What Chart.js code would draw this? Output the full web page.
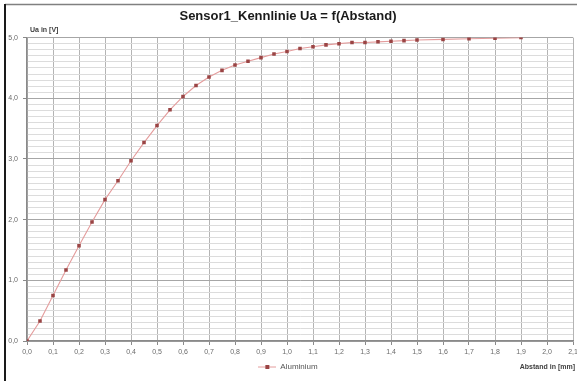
<!DOCTYPE html>
<html>
<head>
<meta charset="utf-8">
<title>Sensor1_Kennlinie</title>
<script src="https://cdn.jsdelivr.net/npm/chart.js@4/dist/chart.umd.min.js"></script>
<style>
    html, body { margin: 0; padding: 0; background: #ffffff; }
    #wrap { width: 577px; height: 381px; }
</style>
</head>
<body>
<div id="wrap"><canvas id="sensor-chart" width="577" height="381"></canvas></div>
<script>
'use strict';

// Abstand in mm
const abstand = [
    0.00, 0.05, 0.10, 0.15, 0.20, 0.25, 0.30, 0.35, 0.40, 0.45,
    0.50, 0.55, 0.60, 0.65, 0.70, 0.75, 0.80, 0.85, 0.90, 0.95,
    1.00, 1.05, 1.10, 1.15, 1.20, 1.25, 1.30, 1.35, 1.40, 1.45,
    1.50, 1.60, 1.70, 1.80, 1.90,
];

// Ua in V (Aluminium)
const spannung = [
    0.00, 0.33, 0.75, 1.17, 1.57, 1.96, 2.33, 2.64, 2.97, 3.27,
    3.55, 3.81, 4.03, 4.21, 4.35, 4.46, 4.55, 4.61, 4.67, 4.73,
    4.77, 4.82, 4.85, 4.88, 4.90, 4.92, 4.92, 4.93, 4.94, 4.95,
    4.96, 4.97, 4.98, 4.99, 5.00,
];

const serieName = 'Aluminium';
const chartTitle = 'Sensor1_Kennlinie Ua = f(Abstand)';
const yTitle = 'Ua in [V]';
const xTitle = 'Abstand in [mm]';

const lineColor = '#e49c9c';
const markColor = '#9a4444';

const canv = document.querySelector('#sensor-chart');

function isMajor(v) {
    return Math.abs(v - Math.round(v)) < 1e-6;
}

function komma(v) {
    return v.toFixed(1).replace('.', ',');
}

// kleines Legendensymbol: Linie mit Marker
function legendIcon() {
    const c = document.createElement('canvas');
    c.width = 18;
    c.height = 6;
    const ctx = c.getContext('2d');
    ctx.strokeStyle = lineColor;
    ctx.lineWidth = 1;
    ctx.beginPath();
    ctx.moveTo(0, 3);
    ctx.lineTo(18, 3);
    ctx.stroke();
    ctx.fillStyle = markColor;
    ctx.fillRect(7, 1, 4, 4);
    return c;
}

const points = abstand.map((x, i) => ({x: x, y: spannung[i]}));

const rahmenPlugin = {
    id: 'rahmen',
    beforeDraw(chart) {
	const ctx = chart.ctx;
	ctx.save();
	ctx.fillStyle = '#ffffff';
	ctx.fillRect(0, 0, chart.width, chart.height);
	ctx.strokeStyle = '#808080';
	ctx.lineWidth = 1.5;
	ctx.beginPath();
	ctx.moveTo(5, 4.5);
	ctx.lineTo(chart.width, 4.5);
	ctx.stroke();
	ctx.strokeStyle = '#1a1a1a';
	ctx.lineWidth = 2;
	ctx.beginPath();
	ctx.moveTo(5, 4);
	ctx.lineTo(5, chart.height);
	ctx.stroke();
	ctx.restore();
    },
    afterDraw(chart) {
	const ctx = chart.ctx;
	const area = chart.chartArea;
	ctx.save();
	ctx.fillStyle = '#404040';
	ctx.font = 'bold 7px "Liberation Sans", sans-serif';
	ctx.textBaseline = 'middle';
	ctx.textAlign = 'left';
	ctx.fillText(yTitle, area.left + 3, area.top - 8);
	ctx.textAlign = 'right';
	ctx.fillText(xTitle, chart.width - 2, 367);
	ctx.restore();
    },
};

const chartConfig = {
    type: 'line',
    data: {
	datasets: [{
	    label: serieName,
	    data: points,
	    borderColor: lineColor,
	    backgroundColor: markColor,
	    borderWidth: 1.1,
	    tension: 0,
	    pointStyle: 'rect',
	    pointRadius: 2.5,
	    pointBackgroundColor: markColor,
	    pointBorderColor: markColor,
	    pointBorderWidth: 0,
	}],
    },
    options: {
	responsive: false,
	animation: false,
	layout: {
	    padding: {top: 0, left: 0, right: 1, bottom: 0},
	},
	plugins: {
	    title: {
		display: true,
		text: chartTitle,
		color: '#1a1a1a',
		font: {family: '"Liberation Sans", sans-serif', size: 13, weight: 'bold'},
		padding: {top: 9, bottom: 13},
	    },
	    legend: {
		display: true,
		position: 'bottom',
		labels: {
		    color: '#555555',
		    font: {family: '"Liberation Sans", sans-serif', size: 8},
		    usePointStyle: true,
		    pointStyle: legendIcon(),
		    pointStyleWidth: 18,
		    padding: 6,
		},
	    },
	    tooltip: {enabled: false},
	},
	scales: {
	    x: {
		type: 'linear',
		min: 0,
		max: 2.1,
		border: {color: '#8a8a8a', width: 1.5},
		grid: {
		    color: '#b4b4b4',
		    lineWidth: 1,
		    tickLength: 4,
		    tickColor: '#8a8a8a',
		},
		ticks: {
		    stepSize: 0.1,
		    autoSkip: false,
		    maxRotation: 0,
		    padding: 3,
		    color: '#6a6a6a',
		    font: {family: '"Liberation Sans", sans-serif', size: 7},
		    callback: val => komma(val),
		},
		afterFit: scale => {
		    const legendH = scale.chart.legend ? scale.chart.legend.height : 0;
		    scale.height = scale.chart.height - 341 - legendH;
		    scale.paddingLeft = 0;
		    scale.paddingRight = 0;
		},
	    },
	    y: {
		type: 'linear',
		min: 0,
		max: 5,
		border: {color: '#8a8a8a', width: 1.5},
		grid: {
		    color: ctx => isMajor(ctx.tick.value) ? '#a6a6a6' : '#dcdcdc',
		    lineWidth: 1,
		    tickLength: 4,
		    tickColor: ctx => isMajor(ctx.tick.value) ? '#8a8a8a' : 'rgba(0,0,0,0)',
		},
		ticks: {
		    stepSize: 0.1,
		    autoSkip: false,
		    padding: 5,
		    color: '#6a6a6a',
		    font: {family: '"Liberation Sans", sans-serif', size: 7},
		    callback: val => isMajor(val) ? komma(val) : '',
		},
		afterFit: scale => {
		    scale.width = 27;
		    scale.paddingTop = 0;
		    scale.paddingBottom = 0;
		},
	    },
	},
    },
    plugins: [rahmenPlugin],
};

const sensorChart = new Chart(canv, chartConfig);
</script>
</body>
</html>
